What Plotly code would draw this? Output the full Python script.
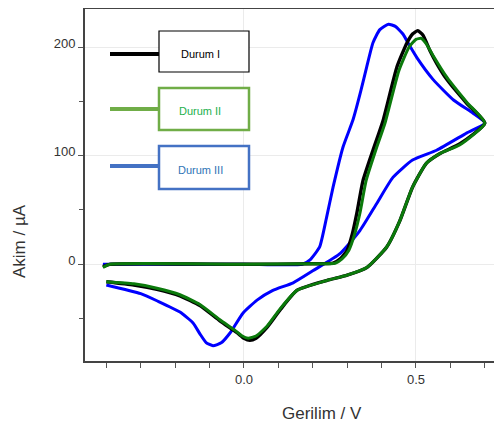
import plotly.graph_objects as go

# ---- data (V, µA) ----
v_durum1 = [-0.41, -0.39, 0.0, 0.20, 0.259, 0.28, 0.30, 0.315, 0.328, 0.346, 0.375, 0.404, 0.445, 0.474, 0.49, 0.505, 0.52, 0.54, 0.56, 0.59, 0.648, 0.70,
            0.628, 0.57, 0.53, 0.49, 0.453, 0.415, 0.357, 0.30, 0.24, 0.154, 0.105, 0.067, 0.035, 0.017, 0.0, -0.02, -0.07, -0.128, -0.186, -0.253, -0.32, -0.40]
i_durum1 = [-2, 0, 0, 0.5, 1, 5, 13, 28, 47, 77, 105, 132, 182, 204, 212, 215, 211, 197, 185, 170, 148, 130,
            111, 102, 93, 71, 40, 16, -3, -10, -15, -24, -42, -58, -68, -70, -68, -63, -52, -38, -29, -23, -19, -16]

v_durum2 = [-0.41, -0.39, 0.0, 0.20, 0.265, 0.285, 0.305, 0.322, 0.337, 0.355, 0.383, 0.41, 0.45, 0.48, 0.50, 0.515, 0.53, 0.55, 0.59, 0.648, 0.70,
            0.628, 0.57, 0.53, 0.49, 0.453, 0.415, 0.357, 0.30, 0.24, 0.154, 0.105, 0.067, 0.035, 0.012, -0.005, -0.025, -0.07, -0.128, -0.186, -0.253, -0.32, -0.40]
i_durum2 = [-3, 0, 0, 0.5, 1, 5, 13, 28, 47, 77, 105, 130, 178, 200, 207, 208, 203, 192, 172, 149, 130,
            110, 102, 93, 71, 40, 16, -3, -10, -15, -24, -41, -57, -66, -68, -66, -61, -51, -37, -28, -22, -18, -16]

v_durum3 = [-0.41, 0.0, 0.17, 0.192, 0.22, 0.24, 0.259, 0.288, 0.317, 0.34, 0.357, 0.375, 0.395, 0.42, 0.44, 0.462, 0.48, 0.503, 0.55, 0.61, 0.666, 0.70,
            0.648, 0.56, 0.49, 0.433, 0.386, 0.337, 0.28, 0.20, 0.143, 0.084, 0.038, -0.003, -0.04, -0.065, -0.09, -0.11, -0.128, -0.148, -0.186, -0.25, -0.30, -0.40]
i_durum3 = [0, 0, 0, 4, 16, 43, 71, 108, 133, 160, 182, 204, 216, 221, 219, 212, 202, 190, 170, 151, 139, 130,
            121, 105, 96, 80, 56, 31, 10, -6, -17, -24, -33, -45, -63, -72, -75, -72, -64, -54, -44, -34, -27, -19]

series_names = ["Durum I", "Durum II", "Durum III"]
x_tick_vals = [0.0, 0.5]
x_tick_text = ["0.0", "0.5"]
y_tick_vals = [0, 100, 200]
y_tick_text = ["0", "100", "200"]

# ---- layout geometry (page pixels; page body has an 8px margin) ----
OFF = 8
W, H = 502 - OFF, 426 - OFF
L, T, R, B = 85 - OFF, 1, 0, 65
PW, PH = W - L - R, H - T - B


def px(x):
    return (x - OFF - L) / PW


def py(y):
    return (H - B - (y - OFF)) / PH


fig = go.Figure()
fig.add_trace(go.Scatter(x=v_durum3, y=i_durum3, mode="lines", name=series_names[2],
                         line=dict(color="#0000ff", width=3, shape="spline", smoothing=0.5)))
fig.add_trace(go.Scatter(x=v_durum1, y=i_durum1, mode="lines", name=series_names[0],
                         line=dict(color="#000000", width=3.4, shape="spline", smoothing=0.5)))
fig.add_trace(go.Scatter(x=v_durum2, y=i_durum2, mode="lines", name=series_names[1],
                         line=dict(color="#0b7a0b", width=3, shape="spline", smoothing=0.5)))

axis_font = dict(family="Liberation Sans, Arial, sans-serif", size=13, color="#333333")

fig.update_layout(
    width=W, height=H,
    margin=dict(l=L, r=R, t=T, b=B, autoexpand=False),
    paper_bgcolor="white", plot_bgcolor="white",
    showlegend=False,
    xaxis=dict(range=[-0.462, 0.75], tickvals=x_tick_vals, ticktext=x_tick_text,
               ticks="outside", ticklen=5, tickcolor="#555", tickwidth=1,
               minor=dict(dtick=0.1, tick0=0, ticks="outside", ticklen=5, tickcolor="#555", showgrid=False),
               showgrid=True, gridcolor="#ebebeb", gridwidth=1,
               showline=True, linecolor="#444", linewidth=2, mirror=True,
               zeroline=False, tickfont=axis_font, automargin=False),
    yaxis=dict(range=[-89, 235], tickvals=y_tick_vals, ticktext=y_tick_text,
               ticks="outside", ticklen=5, tickcolor="#555", tickwidth=1,
               minor=dict(dtick=50, tick0=0, ticks="outside", ticklen=4, tickcolor="#555", showgrid=False),
               showgrid=True, gridcolor="#ebebeb", gridwidth=1,
               showline=True, linecolor="#444", linewidth=2,
               zeroline=False, tickfont=axis_font, automargin=False,
               ticklabelshift=-4),
)

# axis titles
title_font = dict(family="Liberation Sans, Arial, sans-serif", size=17, color="#333333")
fig.add_annotation(text="Gerilim / V", xref="paper", yref="paper", x=px(322), y=py(413),
                   xanchor="center", yanchor="middle", showarrow=False, font=title_font)
fig.add_annotation(text="Akim / µA", xref="paper", yref="paper", x=px(19), y=py(241),
                   xanchor="center", yanchor="middle", showarrow=False, font=title_font, textangle=-90)

# custom legend
legend_items = [
    (series_names[0], "#000000", "#000000", "#000000", 31, 72, 54, 1.2),
    (series_names[1], "#70ad47", "#70ad47", "#22b04b", 88, 130, 109, 2.5),
    (series_names[2], "#4472c4", "#4472c4", "#2e75b6", 146, 189, 166, 2.5),
]
for name, lcol, bcol, tcol, y0, y1, yl, bw in legend_items:
    fig.add_shape(type="line", xref="paper", yref="paper", x0=px(110), x1=px(159), y0=py(yl), y1=py(yl),
                  line=dict(color=lcol, width=4))
    fig.add_shape(type="rect", xref="paper", yref="paper", x0=px(159), x1=px(249), y0=py(y1), y1=py(y0),
                  line=dict(color=bcol, width=bw), fillcolor="white")
    fig.add_annotation(text=name, xref="paper", yref="paper", x=px(200), y=py((y0 + y1) / 2 + 2),
                       xanchor="center", yanchor="middle", showarrow=False,
                       font=dict(family="Liberation Sans, Arial, sans-serif", size=11, color=tcol))

fig.write_html("out.html")
